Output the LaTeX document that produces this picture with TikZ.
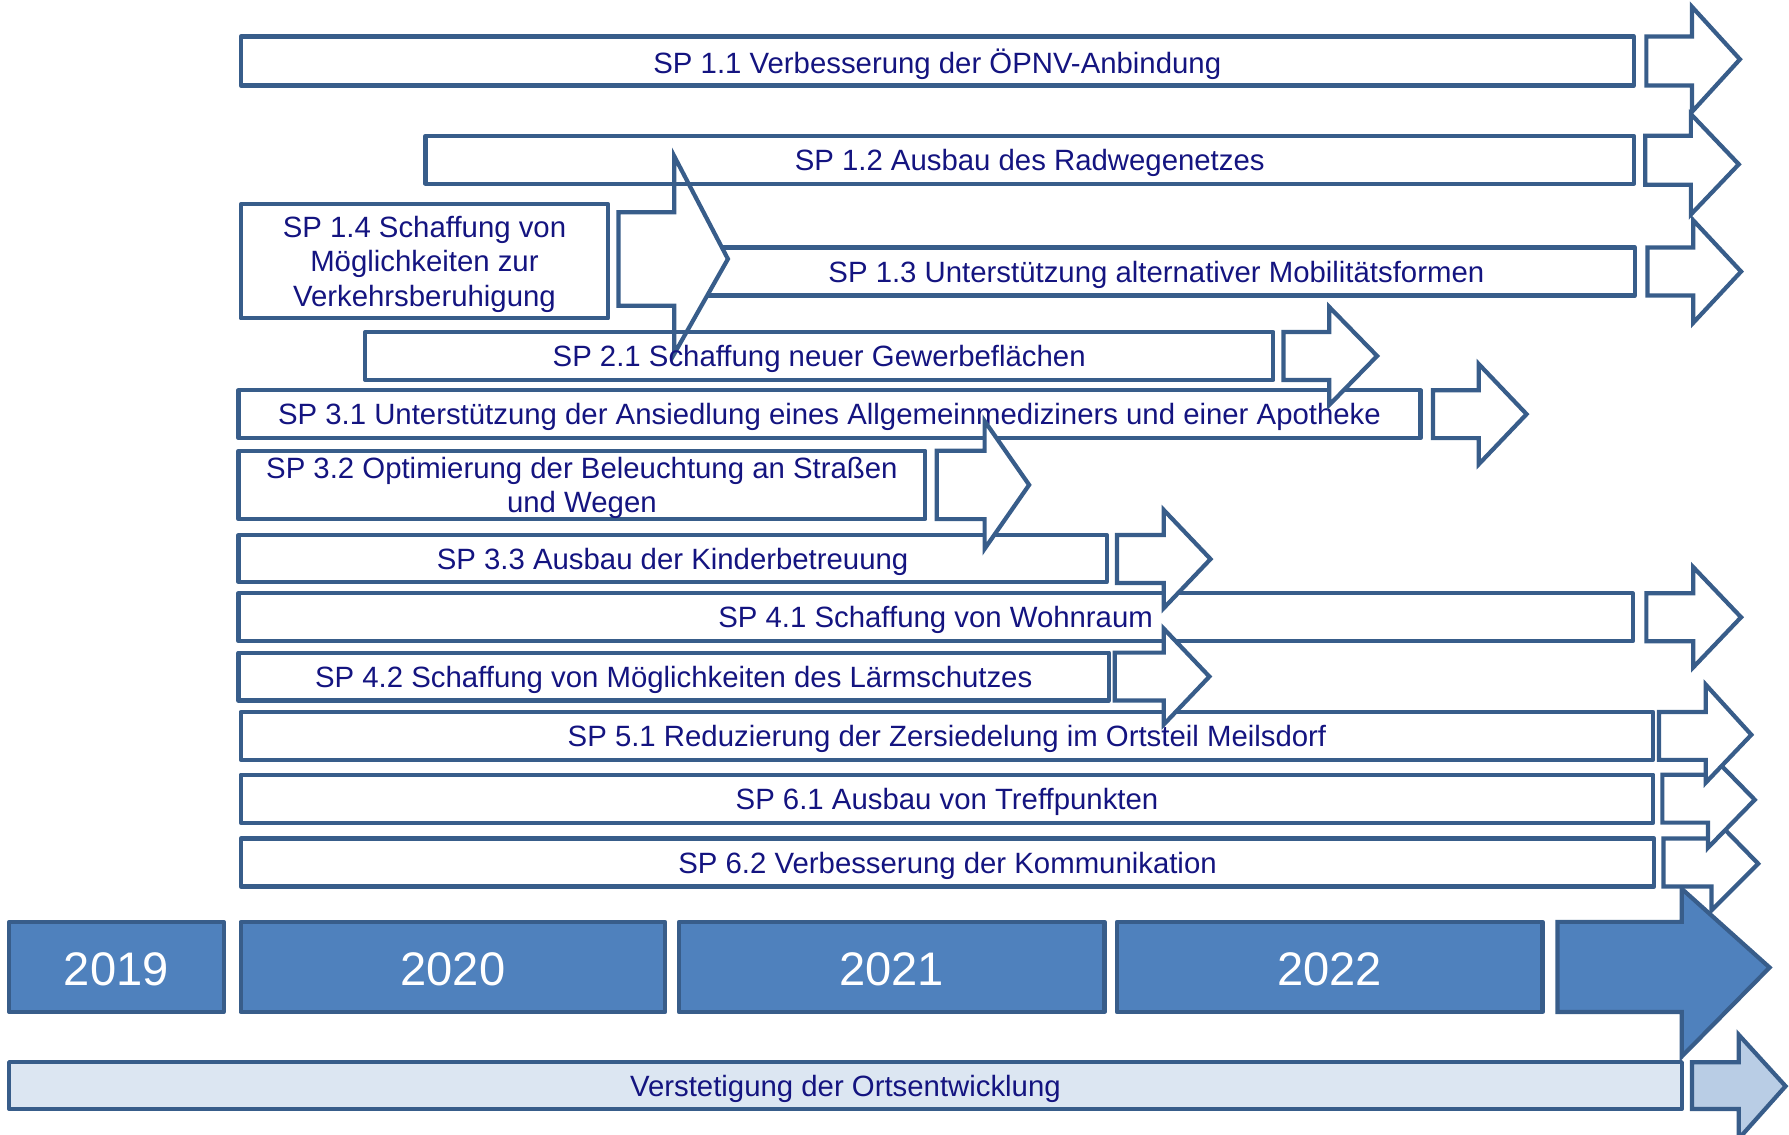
\documentclass[tikz,border=0pt]{standalone}
\usepackage{fontspec}
\setmainfont{Liberation Sans}
\usetikzlibrary{fit}
\definecolor{framecol}{HTML}{385D8A}
\definecolor{yearcol}{HTML}{4F81BD}
\definecolor{barcol}{HTML}{DCE6F2}
\definecolor{barhead}{HTML}{B9CDE5}
\definecolor{spnavy}{RGB}{20,20,128}
\begin{document}
\begin{tikzpicture}[x=0.11409mm, y=-0.11409mm,
  spbox/.style={draw=framecol, line width=1.2pt, line join=round, inner sep=0pt},
  sptext/.style={text=spnavy, align=center, inner sep=0pt, yshift=-0.3mm, font=\fontsize{8.35}{9.9}\selectfont},
  yearbox/.style={spbox, fill=yearcol},
  yeartext/.style={text=white, inner sep=0pt, yshift=-0.25mm, font=\fontsize{13.4}{16}\selectfont},
  barbox/.style={spbox, fill=barcol},
  sparrow/.style={draw=framecol, line width=1.2pt, fill=white}]
\useasboundingbox (0,0) rectangle (1568,994);
\clip (0,0) rectangle (1568,994);

% years along the bottom
\node[yearbox, fit={(8,808) (196,887)}, label={[yeartext]center:2019}] (y2019) {};
\node[yearbox, fit={(211,808) (583,887)}, label={[yeartext]center:2020}] (y2020) {};
\node[yearbox, fit={(595,808) (968,887)}, label={[yeartext]center:2021}] (y2021) {};
\node[yearbox, fit={(979,808) (1352,887)}, label={[yeartext]center:2022}] (y2022) {};
\draw[sparrow, fill=yearcol] (1365,808) -- (1474,808) -- (1474,779) -- (1551,848) -- (1474,926) -- (1474,887) -- (1365,887) -- cycle;
\node[barbox, fit={(8,931) (1474,972)}, label={[sptext]center:Verstetigung der Ortsentwicklung}] (verst) {};
\draw[sparrow, fill=barhead] (1483,931) -- (1524,931) -- (1524,907) -- (1565,952) -- (1524,998) -- (1524,972) -- (1483,972) -- cycle;

% SP 1.3 lies behind the big arrow of SP 1.4
\node[spbox, fit={(594,217) (1433,259)}, label={[sptext]center:SP 1.3 Unterstützung alternativer Mobilitätsformen}] (sp13) {};
\draw[sparrow] (542,186) -- (591,186) -- (591,137) -- (638,227) -- (591,310) -- (591,268) -- (542,268) -- cycle;

\node[spbox, fit={(211,32) (1432,75)}, label={[sptext]center:SP 1.1 Verbesserung der ÖPNV-Anbindung}] (sp11) {};
\node[spbox, fit={(373,119) (1432,161)}, label={[sptext]center:SP 1.2 Ausbau des Radwegenetzes}] (sp12) {};
\node[spbox, fit={(211,179) (533,279)}, label={[sptext]center:SP 1.4 Schaffung von\\ Möglichkeiten zur\\ Verkehrsberuhigung}] (sp14) {};
\node[spbox, fit={(320,291) (1116,333)}, label={[sptext]center:SP 2.1 Schaffung neuer Gewerbeflächen}] (sp21) {};
\node[spbox, fit={(209,342) (1245,384)}, label={[sptext]center:SP 3.1 Unterstützung der Ansiedlung eines Allgemeinmediziners und einer Apotheke}] (sp31) {};
\node[spbox, fit={(209,395) (811,455)}, label={[sptext]center:SP 3.2 Optimierung der Beleuchtung an Straßen\\ und Wegen}] (sp32) {};
\node[spbox, fit={(209,469) (970,510)}, label={[sptext]center:SP 3.3 Ausbau der Kinderbetreuung}] (sp33) {};
\node[spbox, fit={(209,520) (1431,562)}, label={[sptext]center:SP 4.1 Schaffung von Wohnraum}] (sp41) {};
\node[spbox, fit={(209,572) (972,614)}, label={[sptext]center:SP 4.2 Schaffung von Möglichkeiten des Lärmschutzes}] (sp42) {};
\node[spbox, fit={(211,624) (1449,666)}, label={[sptext]center:SP 5.1 Reduzierung der Zersiedelung im Ortsteil Meilsdorf}] (sp51) {};
\node[spbox, fit={(211,679) (1449,721)}, label={[sptext]center:SP 6.1 Ausbau von Treffpunkten}] (sp61) {};
\node[spbox, fit={(211,735) (1450,777)}, label={[sptext]center:SP 6.2 Verbesserung der Kommunikation}] (sp62) {};

% open arrows, lowest first
\foreach \xa/\xb/\xc/\ya/\yb/\yc/\yd/\ye in {
    1458/1500/1541/735/777/715/798/757, 1457/1497/1538/679/721/659/743/701,
    1454/1495/1535/624/666/600/686/644, 977/1020/1060/572/614/551/635/593,
    1443/1484/1526/520/562/497/585/541, 979/1020/1061/469/511/447/533/490,
    821/863/902/395/455/369/481/425, 1256/1296/1338/342/384/319/407/363,
    1125/1165/1207/291/333/269/355/312, 1444/1484/1526/217/259/193/283/238,
    1442/1482/1524/119/162/100/188/144, 1443/1483/1525/32/75/6/98/52}
  \draw[sparrow] (\xa,\ya) -- (\xb,\ya) -- (\xb,\yc) -- (\xc,\ye) -- (\xb,\yd) -- (\xb,\yb) -- (\xa,\yb) -- cycle;
\end{tikzpicture}
\end{document}
